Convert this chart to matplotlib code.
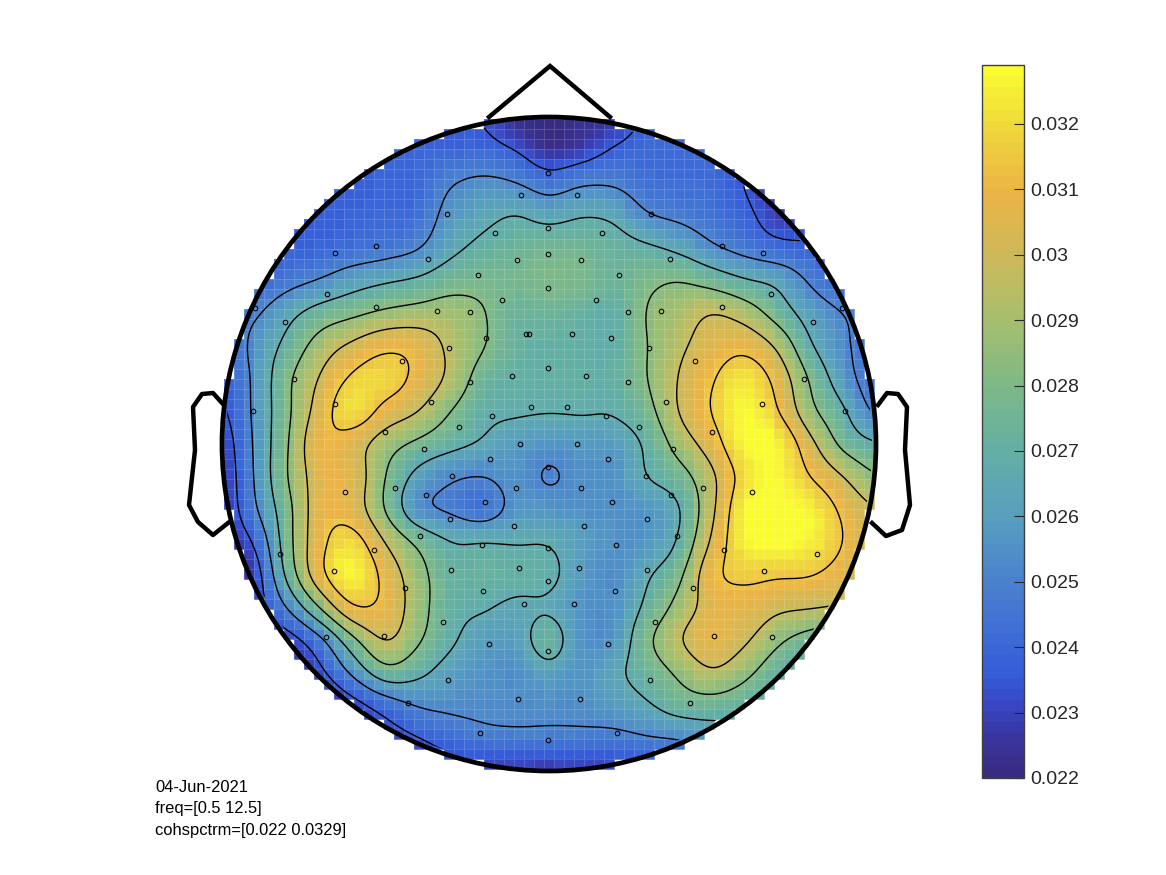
import numpy as np
import matplotlib
matplotlib.use("Agg")
import matplotlib.pyplot as plt
from matplotlib.colors import LinearSegmentedColormap
from matplotlib.patches import Circle

plt.rcParams['font.family'] = ['Liberation Sans', 'DejaVu Sans']

VMIN, VMAX = 0.022, 0.0329

# Coherence field (x 1e-3), rows top to bottom, columns left to right
row00 = [23.5,23.5,23.5,23.5,23.5,23.5,23.5,23.5,23.5,22.3,22.0,22.3,22.6,23.8,24.0,24.0,24.0,24.0,24.0,24.0,24.0]
row01 = [24.0,24.0,24.0,24.0,24.0,24.0,24.0,23.9,24.0,23.5,22.4,22.8,23.7,24.1,24.1,24.0,23.8,23.4,23.4,23.4,23.4]
row02 = [23.8,23.8,23.8,23.8,23.7,23.9,24.0,25.0,25.4,25.1,24.3,24.9,24.9,24.3,24.2,24.2,23.5,22.8,22.8,22.8,22.8]
row03 = [23.7,23.7,23.7,23.7,23.9,24.1,24.2,25.7,26.3,26.7,26.2,26.6,26.4,25.2,24.8,24.4,23.9,22.8,22.7,22.7,22.7]
row04 = [23.7,23.7,23.7,23.9,24.2,24.5,25.0,26.3,27.0,27.3,27.6,27.5,27.2,26.9,26.3,25.3,24.6,24.0,23.8,23.4,23.4]
row05 = [23.9,23.9,24.6,25.2,26.0,26.5,26.9,27.6,27.8,27.7,28.0,27.9,27.3,27.9,28.2,27.6,26.8,26.3,24.9,24.0,24.0]
row06 = [24.5,24.9,26.2,27.3,27.9,28.5,28.8,28.9,28.3,27.3,27.5,27.2,26.9,28.3,29.0,29.8,29.1,27.5,26.0,25.1,24.5]
row07 = [24.0,25.5,27.1,28.9,30.1,31.0,30.8,29.4,28.3,27.2,27.0,27.0,26.9,28.2,29.5,30.5,30.9,29.5,26.8,25.4,24.3]
row08 = [23.6,25.4,27.9,29.9,31.6,32.0,30.9,29.4,27.5,27.0,27.0,27.0,27.0,28.2,29.9,31.2,32.3,30.8,28.0,25.8,24.3]
row09 = [23.3,25.4,27.9,30.5,32.3,30.8,29.8,28.2,27.0,26.85,26.75,26.8,26.8,27.7,29.9,31.4,32.8,31.4,28.6,26.9,24.8]
row10 = [22.8,25.3,28.1,31.0,30.5,28.9,27.9,27.1,26.5,25.9,25.6,25.8,25.9,26.9,28.9,30.6,32.8,32.8,30.2,27.8,26.8]
row11 = [22.6,25.2,28.2,30.6,30.7,28.2,26.2,25.3,25.1,25.6,24.95,25.5,25.5,26.7,27.6,29.5,32.0,32.8,31.3,29.8,28.3]
row12 = [22.5,24.9,27.7,30.7,30.6,28.1,25.5,24.9,24.3,25.6,25.7,25.5,25.5,25.6,26.6,29.5,32.7,33.0,32.6,31.0,29.8]
row13 = [22.5,23.7,27.6,30.9,32.0,29.7,27.9,26.7,26.7,26.6,26.6,26.0,25.6,25.6,26.9,30.1,32.6,32.9,32.7,31.3,30.0]
row14 = [22.0,22.8,27.1,30.9,32.8,30.8,28.8,27.2,27.2,27.1,27.0,25.9,25.3,26.5,27.9,31.0,31.6,31.5,31.4,30.6,29.5]
row15 = [22.2,22.8,25.2,28.3,31.2,30.9,28.9,27.1,26.8,26.4,26.5,25.6,25.5,27.0,28.8,30.5,30.8,30.1,29.9,29.6,29.0]
row16 = [22.2,22.5,22.9,24.7,27.8,29.9,28.4,26.9,26.0,26.0,27.4,25.6,25.6,27.9,29.7,30.8,30.0,28.5,27.5,27.0,27.0]
row17 = [22.2,22.2,22.2,23.2,25.4,27.6,27.0,26.0,25.6,25.4,26.2,25.6,26.4,27.3,28.5,29.6,28.6,27.2,26.5,26.5,26.5]
row18 = [22.2,22.2,22.2,22.2,23.0,24.2,25.2,25.4,25.4,25.4,25.4,25.4,25.9,26.5,27.4,27.5,27.1,26.5,26.5,26.5,26.5]
row19 = [22.4,22.4,22.4,22.4,22.4,22.9,23.5,24.2,24.7,24.8,24.8,24.8,24.7,25.0,25.2,25.7,25.9,25.9,25.9,25.9,25.9]
row20 = [22.6,22.6,22.6,22.6,22.6,22.6,22.6,22.9,22.9,22.8,22.7,22.8,23.0,23.3,23.6,23.6,23.6,23.6,23.6,23.6,23.6]
field_rows = [row00,row01,row02,row03,row04,row05,row06,row07,row08,row09,row10,
              row11,row12,row13,row14,row15,row16,row17,row18,row19,row20]

contour_levels = [0.02356, 0.02511, 0.02667, 0.02822, 0.02978, 0.03133]
cbar_ticks = [0.022,0.023,0.024,0.025,0.026,0.027,0.028,0.029,0.03,0.031,0.032]
cbar_labels = ['0.022','0.023','0.024','0.025','0.026','0.027','0.028','0.029','0.03','0.031','0.032']

sensor_x = [255,285,335,376,447,521,548,428,495,548,548,517,478,548,327,376,437,470,502,526,529,486,449,402,548,512,470,431,335,294,253,531,492,459,385,
            577,651,602,581,670,619,722,763,596,771,722,661,628,572,611,649,813,842,695,586,628,804,762,666,845,567,606,639,712,
            345,374,334,280,405,384,326,395,424,452,426,490,520,516,485,450,514,420,482,548,451,519,548,483,524,443,489,548,448,518,408,480,548,548,
            577,608,581,612,584,616,579,615,574,608,580,617,650,690,655,693,714,772,764,817,724,752,703,673,646,671,647,677,647]
sensor_y = [308,322,253,246,214,195,173,259,233,228,254,260,275,288,294,307,311,312,300,334,334,338,348,361,368,376,382,402,404,379,411,407,416,427,432,
            195,214,233,260,259,275,246,253,300,294,307,311,312,334,338,348,322,308,361,376,382,379,404,402,411,407,416,427,432,
            492,550,571,554,588,636,637,488,449,476,495,459,444,488,502,519,526,536,545,548,570,568,581,591,604,622,644,651,680,699,703,733,740,467,
            444,459,488,502,526,545,568,591,604,644,699,733,680,703,622,588,636,637,571,554,550,492,488,449,476,495,519,536,570]

nose_x = [489,550,610]
nose_y = [117,66,117]
ear_l_x = [222,213,202,193,195,189,198,213,228]
ear_l_y = [403,393,394,407,450,505,522,535,523]
ear_r_x = [878,887,898,907,905,910,902,886,872]
ear_r_y = [405,393,394,407,450,505,530,536,523]

info_lines = ['04-Jun-2021', 'freq=[0.5 12.5]', 'cohspctrm=[0.022 0.0329]']

cmap_vals = [0.022,0.0225,0.023,0.0235,0.024,0.025,0.026,0.027,0.028,0.029,0.030,0.031,0.032,0.0329]
cmap_cols = [(56,44,130),(58,52,155),(56,68,192),(54,90,215),(60,105,215),(75,130,205),(88,160,190),
             (100,175,165),(125,185,135),(165,190,110),(205,185,90),(235,180,70),(240,215,60),(250,252,50)]
parula_like = LinearSegmentedColormap.from_list(
    'parula_like',
    [((v-VMIN)/(VMAX-VMIN), tuple(c/255 for c in col)) for v, col in zip(cmap_vals, cmap_cols)],
    N=64)

CX, CY, R = 549, 444, 327
nodes = np.linspace(CX-R, CX+R, 21)
nodes_y = np.linspace(CY-R, CY+R, 21)
field = np.array(field_rows)*1e-3


def smooth_axis(a, src, dst, axis):
    """Catmull-Rom resampling along one axis, used only to render the read values smoothly."""
    a = np.moveaxis(a, axis, 0)
    h = src[1]-src[0]
    t = np.clip((dst-src[0])/h, 0, len(src)-1-1e-9)
    i = t.astype(int); f = (t-i)[:, None]
    g = lambda k: a[np.clip(k, 0, len(src)-1)]
    out = 0.5*((2*g(i)) + (-g(i-1)+g(i+1))*f + (2*g(i-1)-5*g(i)+4*g(i+1)-g(i+2))*f**2
               + (-g(i-1)+3*g(i)-3*g(i+1)+g(i+2))*f**3)
    return np.moveaxis(out, 0, axis)


def blur(a, width=5, passes=2):
    """Box blur along both axes to take the hand-reading ripple out of the contours."""
    kernel = np.ones(width)/width
    pad = width//2
    for _ in range(passes):
        for axis in (0, 1):
            a = np.apply_along_axis(
                lambda v: np.convolve(np.pad(v, pad, mode='edge'), kernel, mode='valid'), axis, a)
    return a


fx = np.linspace(CX-R-8, CX+R+8, 211)
fy = np.linspace(CY-R-8, CY+R+8, 211)
fine = blur(smooth_axis(smooth_axis(field, nodes_y, fy, 0), nodes, fx, 1))

fig = plt.figure(figsize=(11.66, 8.75), dpi=100)
ax = fig.add_axes([0, 0, 1, 1])
ax.set_xlim(0, 1166); ax.set_ylim(875, 0); ax.axis('off')

# blocky 10 px image
edges_x = np.arange(CX-335, CX+336, 10)
edges_y = np.arange(CY-335, CY+336, 10)
mx = 0.5*(edges_x[:-1]+edges_x[1:]); my = 0.5*(edges_y[:-1]+edges_y[1:])
ix = np.searchsorted(fx, mx).clip(0, len(fx)-1)
iy = np.searchsorted(fy, my).clip(0, len(fy)-1)
cells = fine[np.ix_(iy, ix)]
gx, gy = np.meshgrid(mx, my)
cells = np.ma.masked_where(np.hypot(gx-CX, gy-CY) > R, cells)
mesh = ax.pcolormesh(edges_x, edges_y, cells, cmap=parula_like, vmin=VMIN, vmax=VMAX,
                     edgecolors=(1, 1, 1, 0.16), linewidth=0.6)

# contours: no lines along the bottom rim, as in the reference
Gx, Gy = np.meshgrid(fx, fy)
contour_field = np.ma.masked_where((Gy > 748) & (Gx > 458) & (Gx < 660), fine)
cs = ax.contour(fx, fy, contour_field, levels=contour_levels, colors='k', linewidths=1.0)
clip = Circle((CX, CY), R-4, transform=ax.transData)
cs.set_clip_path(clip)

# head outline
ax.add_patch(Circle((CX, CY), R, fill=False, ec='k', lw=3.4, zorder=5))
ax.plot(nose_x, nose_y, color='k', lw=3.2, zorder=5, solid_joinstyle='miter')
ax.plot(ear_l_x, ear_l_y, color='k', lw=3.2, zorder=4)
ax.plot(ear_r_x, ear_r_y, color='k', lw=3.2, zorder=4)

# sensors
ax.plot(sensor_x, sensor_y, 'o', ms=3.3, mfc='none', mec='k', mew=0.75, zorder=6)

# info text
for txt, y in zip(info_lines, [788, 809, 830]):
    ax.text(155, y, txt, fontsize=11.9, color='k', ha='left', va='center')

# colourbar
cax = fig.add_axes([982/1166, 1-778/875, 42/1166, 713/875])
cb = fig.colorbar(mesh, cax=cax)
cb.set_ticks(cbar_ticks, labels=cbar_labels)
cax.tick_params(axis='y', direction='in', length=7, width=0.8, color='#262626',
                labelsize=14, labelcolor='#262626', pad=4.6)
cb.outline.set_edgecolor('#404040'); cb.outline.set_linewidth(1.0)

fig.savefig('out.png', dpi=100)
